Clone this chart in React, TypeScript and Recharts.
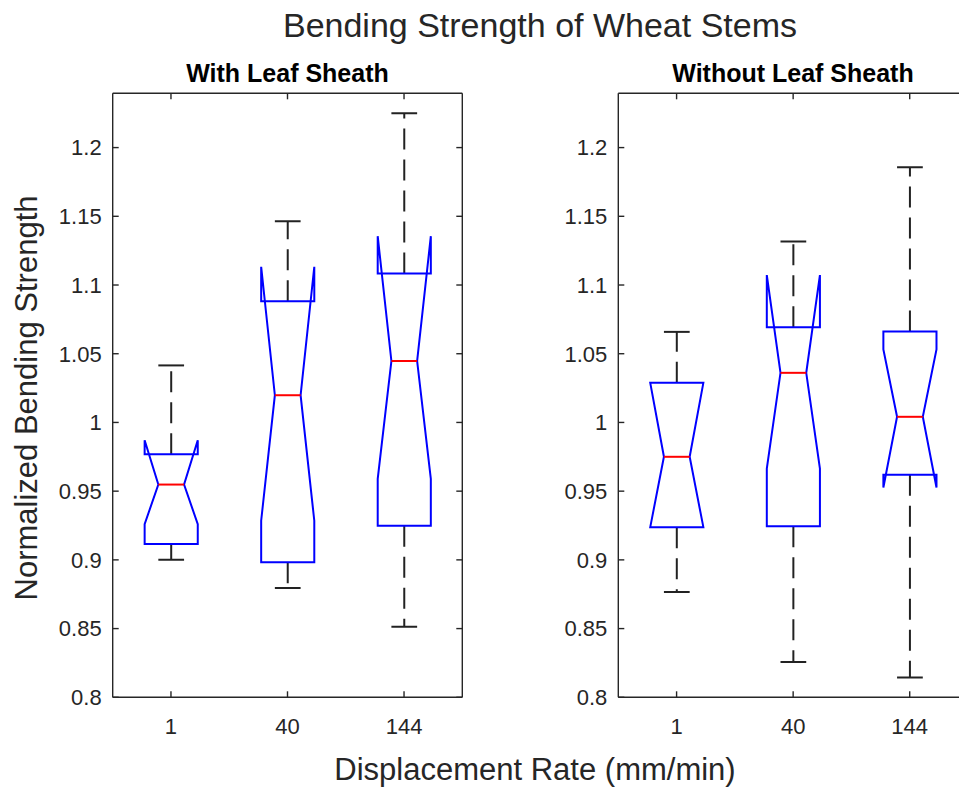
import React from 'react';
import { ComposedChart, Bar, XAxis, YAxis } from 'recharts';

const rates = ['1', '40', '144'];
const yTicks = [0.8, 0.85, 0.9, 0.95, 1, 1.05, 1.1, 1.15, 1.2];
const yDomain: [number, number] = [0.8, 1.2395];

// With leaf sheath
const withLo = [0.9, 0.8795, 0.8514];
const withQ1 = [0.9116, 0.8983, 0.9248];
const withMed = [0.9548, 1.0198, 1.0447];
const withQ3 = [0.9768, 1.0882, 1.1083];
const withHi = [1.0415, 1.1464, 1.225];
const withNotchLo = [0.926, 0.9285, 0.959];
const withNotchHi = [0.987, 1.1133, 1.1355];

// Without leaf sheath
const withoutLo = [0.8767, 0.8256, 0.8144];
const withoutQ1 = [0.9238, 0.9244, 0.9619];
const withoutMed = [0.975, 1.0361, 1.0041];
const withoutQ3 = [1.0288, 1.0692, 1.0662];
const withoutHi = [1.0659, 1.1316, 1.1857];
const withoutNotchLo = [0.9238, 0.9664, 0.9527];
const withoutNotchHi = [1.0288, 1.1072, 1.0531];

const buildRows = (
  lo: number[], q1: number[], med: number[], q3: number[], hi: number[], nLo: number[], nHi: number[]
) =>
  rates.map((rate, i) => ({
    rate,
    lo: lo[i],
    q1: q1[i],
    med: med[i],
    q3: q3[i],
    hi: hi[i],
    nLo: nLo[i],
    nHi: nHi[i],
  }));

const withRows = buildRows(withLo, withQ1, withMed, withQ3, withHi, withNotchLo, withNotchHi);
const withoutRows = buildRows(withoutLo, withoutQ1, withoutMed, withoutQ3, withoutHi, withoutNotchLo, withoutNotchHi);

const FONT = '"Liberation Sans", Arial, Helvetica, sans-serif';
const AXIS = '#262626';
const LW = 2;

// the bar spans whisker lo..hi, so its rect gives the y scale for the other stats
const NotchBox = (props: any) => {
  const { x, y, width, height, payload } = props;
  const { lo, hi, q1, q3, med, nLo, nHi } = payload;
  const py = (v: number) => y + ((hi - v) / (hi - lo)) * height;
  const cx = x + width / 2;
  const hw = width * 0.227;
  const nw = width * 0.11;
  const cw = width * 0.11;
  const pts = [
    [cx - nw, py(med)],
    [cx - hw, py(nHi)],
    [cx - hw, py(q3)],
    [cx + hw, py(q3)],
    [cx + hw, py(nHi)],
    [cx + nw, py(med)],
    [cx + hw, py(nLo)],
    [cx + hw, py(q1)],
    [cx - hw, py(q1)],
    [cx - hw, py(nLo)],
  ];
  const d = 'M' + pts.map((p) => `${p[0]},${p[1]}`).join('L') + 'Z';
  return (
    <g>
      <line x1={cx} y1={py(q3)} x2={cx} y2={py(hi)} stroke="#222" strokeWidth={LW} strokeDasharray="21 10" />
      <line x1={cx} y1={py(q1)} x2={cx} y2={py(lo)} stroke="#222" strokeWidth={LW} strokeDasharray="21 10" />
      <line x1={cx - cw} y1={py(hi)} x2={cx + cw} y2={py(hi)} stroke="#222" strokeWidth={LW} />
      <line x1={cx - cw} y1={py(lo)} x2={cx + cw} y2={py(lo)} stroke="#222" strokeWidth={LW} />
      <path d={d} fill="none" stroke="#0000ff" strokeWidth={LW} strokeLinejoin="miter" />
      <line x1={cx - nw} y1={py(med)} x2={cx + nw} y2={py(med)} stroke="#ff0000" strokeWidth={LW} />
    </g>
  );
};

const tickStyle = { fill: AXIS, fontSize: 22, fontFamily: FONT };
const line = { stroke: AXIS, strokeWidth: 1.4 };
const noLabel = () => <g />;

const Panel = ({ rows, width, margin }: { rows: any[]; width: number; margin: any }) => (
  <ComposedChart width={width} height={789} data={rows} margin={margin} barCategoryGap={0}>
    <XAxis
      dataKey="rate"
      type="category"
      height={40}
      interval={0}
      tickSize={-6}
      tickMargin={27}
      tick={tickStyle}
      axisLine={line}
      tickLine={line}
    />
    <XAxis
      xAxisId="top"
      orientation="top"
      dataKey="rate"
      type="category"
      height={1}
      interval={0}
      tickSize={-6}
      tick={noLabel}
      axisLine={line}
      tickLine={line}
    />
    <YAxis
      type="number"
      width={60}
      domain={yDomain}
      ticks={yTicks}
      allowDataOverflow
      interval={0}
      tickSize={-6}
      tickMargin={17}
      tickFormatter={(v: number) => String(v)}
      tick={tickStyle}
      axisLine={line}
      tickLine={line}
    />
    <YAxis
      yAxisId="right"
      orientation="right"
      type="number"
      width={1}
      domain={yDomain}
      ticks={yTicks}
      allowDataOverflow
      interval={0}
      tickSize={-6}
      tick={noLabel}
      axisLine={line}
      tickLine={line}
    />
    <Bar
      dataKey={(d: any) => [d.lo, d.hi]}
      shape={(p: any) => <NotchBox {...p} />}
      isAnimationActive={false}
    />
  </ComposedChart>
);

export default function App() {
  return (
    <div
      style={{
        position: 'absolute',
        left: 0,
        top: 0,
        width: 959,
        height: 789,
        overflow: 'hidden',
        background: '#fff',
        fontFamily: FONT,
      }}
    >
      <div style={{ position: 'absolute', left: 0, top: 0 }}>
        <Panel rows={withRows} width={480} margin={{ top: 92.3, right: 16.7, bottom: 51.7, left: 52.7 }} />
      </div>
      <div style={{ position: 'absolute', left: 500, top: 0 }}>
        <Panel rows={withoutRows} width={500} margin={{ top: 92.3, right: 31, bottom: 51.7, left: 58.3 }} />
      </div>
      <svg
        width={959}
        height={789}
        style={{ position: 'absolute', left: 0, top: 0, pointerEvents: 'none' }}
        fontFamily={FONT}
      >
        <text x={540} y={37} textAnchor="middle" fontSize={34} fill={AXIS}>
          Bending Strength of Wheat Stems
        </text>
        <text x={287.5} y={82} textAnchor="middle" fontSize={25} fontWeight="bold" fill="#000">
          With Leaf Sheath
        </text>
        <text x={793} y={82} textAnchor="middle" fontSize={25} fontWeight="bold" fill="#000">
          Without Leaf Sheath
        </text>
        <text x={535} y={780} textAnchor="middle" fontSize={31} fill={AXIS}>
          Displacement Rate (mm/min)
        </text>
        <text x={37} y={398} textAnchor="middle" fontSize={31} fill={AXIS} transform="rotate(-90 37 398)">
          Normalized Bending Strength
        </text>
      </svg>
    </div>
  );
}
